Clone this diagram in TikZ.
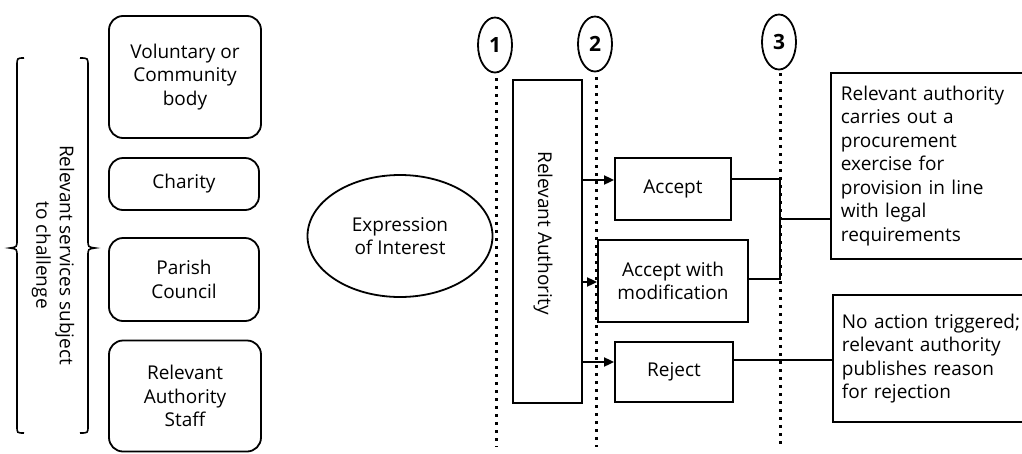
\documentclass[tikz,border=0pt]{standalone}
\usepackage{fontspec}
\setmainfont{Open Sans}
\usetikzlibrary{shapes.geometric,arrows.meta}
\begin{document}
\begin{tikzpicture}[x=1pt,y=-1pt,
  every node/.style={font=\fontsize{19}{23.5}\selectfont, align=center, inner sep=0pt},
  party/.style={draw, line width=1.8pt, rounded corners=14pt},
  stage/.style={draw, line width=1.8pt, ellipse, minimum width=34pt, minimum height=55pt, font=\fontsize{21}{23}\selectfont\bfseries},
  timeline/.style={line width=3pt, dash pattern=on 3pt off 5pt},
  outcome/.style={draw, line width=1.8pt},
  result/.style={draw, line width=1.8pt, align=left, text width=200pt, inner xsep=10pt, anchor=west},
  link/.style={line width=1.8pt},
  go/.style={line width=1.8pt, -{Triangle[length=10pt,width=9pt]}}
]
\clip (0,0) rectangle (1022,453);
\useasboundingbox (0,0) rectangle (1022,453);
\fill[white] (0,0) rectangle (1022,453);

% parties that may express an interest
\node[party, minimum width=152pt, minimum height=122pt] (vol) at (185,77) {Voluntary or\\Community\\body};
\node[party, minimum width=150pt, minimum height=52pt] (cha) at (184,184) {Charity};
\node[party, minimum width=150pt, minimum height=83pt] (par) at (184,279.5) {Parish\\Council};
\node[party, minimum width=152pt, minimum height=111pt] (ras) at (185,396) {Relevant\\Authority\\Staff};

% grouping braces and caption
\draw[line width=1.6pt] (24,58) .. controls (17,58) .. (17,66) -- (17,240) .. controls (17,247) .. (10,248)
  .. controls (17,249) .. (17,256) -- (17,426) .. controls (17,433) .. (24,433);
\draw[line width=1.6pt] (80,58) .. controls (88,58) .. (88,66) -- (88,240) .. controls (88,247) .. (95,248)
  .. controls (88,249) .. (88,256) -- (88,426) .. controls (88,433) .. (80,433);
\node[rotate=-90] (cap) at (53,255) {Relevant services subject\\to challenge};

% expression of interest
\node[draw, line width=1.8pt, ellipse, minimum width=185pt, minimum height=122pt] (eoi) at (400,236) {Expression\\of Interest};

% stage markers and their time lines
\node[stage] (s1) at (495,45) {1};
\node[stage] (s2) at (595,44) {2};
\node[stage] (s3) at (779,42) {3};
\coordinate (t1) at (496,447);
\coordinate (t2) at (596,447);
\coordinate (t3) at (780,445);
\draw[timeline] (s1.south) ++(1,5) -- (t1);
\draw[timeline] (s2.south) ++(1,5) -- (t2);
\draw[timeline] (s3.south) ++(1,3) -- (t3);

% decision by the authority
\node[draw, line width=1.8pt, minimum width=69pt, minimum height=323pt] (ra) at (547.5,241.5) {};
\node[rotate=-90] (ratext) at (543,233) {Relevant Authority};

\node[outcome, minimum width=116pt, minimum height=62pt] (acc) at (673,189) {Accept};
\node[outcome, minimum width=150pt, minimum height=82pt] (accm) at (673,281) {Accept with\\modification};
\node[outcome, minimum width=118pt, minimum height=60pt] (rej) at (674,372) {Reject};

\draw[go] (ra.east |- 0,180) -- (acc.west |- 0,180);
\draw[go] (ra.east |- 0,282) -- (accm.west |- 0,282);
\draw[go] (ra.east |- 0,362) -- (rej.west |- 0,362);

% consequences
\node[result, minimum height=186pt] (proc) at (830,166) {Relevant authority\\carries out a\\procurement\\exercise for\\provision in line\\with legal\\requirements};
\node[result, minimum height=127pt, inner xsep=9pt] (noa) at (832,358.5) {No action triggered;\\relevant authority\\publishes reason\\for rejection};

\coordinate (j1) at (780,179);
\coordinate (j2) at (780,279);
\coordinate (jm) at (780,219);
\draw[link] (acc.east |- j1) -- (j1) -- (j2) -- (accm.east |- j2);
\draw[link] (jm) -- (proc.west |- jm);
\draw[link] (rej.east |- 0,360) -- (noa.west |- 0,360);
\end{tikzpicture}
\end{document}
